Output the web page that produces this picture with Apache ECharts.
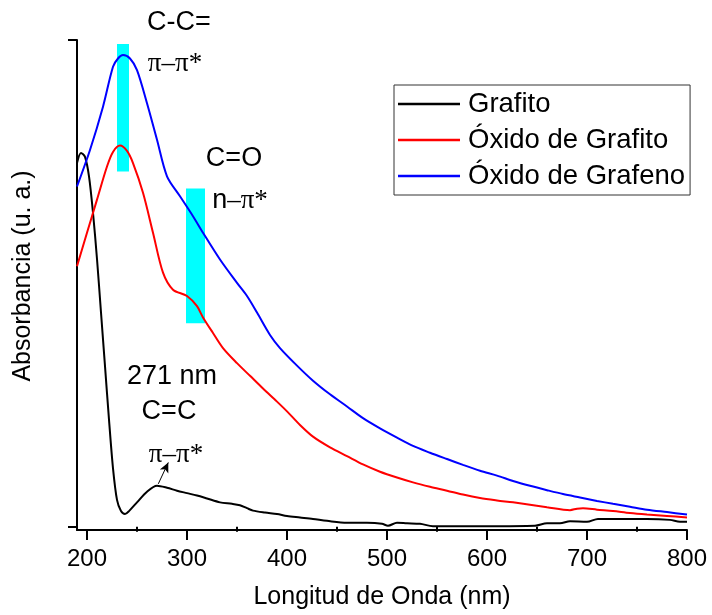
<!DOCTYPE html>
<html>
<head>
<meta charset="utf-8">
<title>Absorbancia UV-Vis</title>
<script src="https://cdn.jsdelivr.net/npm/echarts@6/dist/echarts.min.js"></script>
<style>
html,body{margin:0;padding:0;background:#fff;}
#main{width:712px;height:615px;}
</style>
</head>
<body>
<div id="main"></div>
<script>
//Grafito
var grafitoX=[190,194,198,202,206,210,214,218,222,226,230,234,238,242,250,260,270,280,290,300,310,320,333,345,353,360,366,378,390,400,413,426,440,460,480,495,501,510,520,533,546,600,648,660,673,683,700,711,760,783,793,800];
var grafitoY=[0.747,0.768,0.760,0.720,0.645,0.550,0.440,0.330,0.220,0.120,0.055,0.032,0.026,0.032,0.050,0.072,0.084,0.080,0.074,0.069,0.064,0.058,0.050,0.047,0.044,0.038,0.033,0.029,0.026,0.022,0.019,0.016,0.012,0.008,0.008,0.006,0.002,0.008,0.007,0.006,0.001,0.001,0.002,0.007,0.007,0.011,0.010,0.016,0.016,0.014,0.010,0.010];
//Óxido de Grafito
var oxGrafitoX=[190,200,210,220,226,233,240,246,256,266,276,286,300,310,316,326,336,350,363,376,390,400,413,426,443,460,476,493,510,526,543,560,576,593,610,626,643,660,683,690,696,710,726,743,760,780,800];
var oxGrafitoY=[0.535,0.604,0.672,0.740,0.770,0.783,0.772,0.747,0.686,0.604,0.522,0.487,0.474,0.453,0.430,0.398,0.367,0.336,0.310,0.284,0.257,0.237,0.209,0.185,0.163,0.145,0.128,0.113,0.101,0.091,0.082,0.074,0.066,0.059,0.054,0.050,0.045,0.040,0.034,0.037,0.038,0.035,0.032,0.028,0.025,0.022,0.019];
//Óxido de Grafeno
var oxGrafenoX=[190,203,216,226,231,236,243,250,260,270,280,293,306,316,333,350,360,370,383,393,410,426,443,460,476,493,510,526,543,560,576,593,610,626,643,660,676,693,710,726,743,760,780,800];
var oxGrafenoY=[0.699,0.774,0.863,0.945,0.962,0.969,0.962,0.938,0.870,0.795,0.720,0.679,0.638,0.604,0.549,0.501,0.474,0.440,0.394,0.367,0.331,0.300,0.272,0.247,0.223,0.202,0.183,0.166,0.152,0.139,0.127,0.115,0.105,0.094,0.084,0.075,0.067,0.060,0.053,0.047,0.041,0.035,0.030,0.025];
//bandas de transición (nm, absorbancia)
var bandaCC={x:[230,242],y:[0.730,0.992]};
var bandaCO={x:[299,318],y:[0.418,0.695]};
//ejes
var xTicks=[200,300,400,500,600,700,800];
var xMinorTicks=[250,350,450,550,650,750];
var yTicks=[0,1];
var nombres=["Grafito","Óxido de Grafito","Óxido de Grafeno"];

function pares(xs,ys){
	var d=[];
	for(var i=0;i<xs.length;i++){
		d.push([xs[i],ys[i]]);
	}
	return d;
}

var fuente="'Liberation Sans', Arial, sans-serif";
var fuenteSerif="'Liberation Serif', 'Times New Roman', serif";
var myChart=echarts.init(document.getElementById("main"));

var option={
	animation:false,
	backgroundColor:"#fff",
	grid:{
		left:77,
		right:25,
		top:40,
		bottom:84
	},
	legend:{
		left:394,
		top:85,
		orient:"vertical",
		icon:"rect",
		itemWidth:62,
		itemHeight:2.5,
		itemGap:8,
		padding:[5,5,5,4],
		borderColor:"#333",
		borderWidth:1,
		textStyle:{
			color:"#000",
			fontSize:27.5,
			lineHeight:27,
			fontFamily:fuente,
			padding:[0,0,0,3]
		},
		data:nombres
	},
	xAxis:[
		{
			type:"value",
			min:190,
			max:800,
			name:"Longitud de Onda (nm)",
			nameLocation:"middle",
			nameGap:55,
			nameTextStyle:{
				color:"#000",
				fontSize:25,
				fontFamily:fuente
			},
			axisLine:{
				onZero:false,
				lineStyle:{color:"#000",width:2}
			},
			axisTick:{
				show:true,
				length:10,
				customValues:xTicks,
				lineStyle:{color:"#000",width:2}
			},
			axisLabel:{
				customValues:xTicks,
				margin:17,
				color:"#000",
				fontSize:24,
				fontFamily:fuente
			},
			splitLine:{show:false}
		},
		{
			//ticks menores
			type:"value",
			min:190,
			max:800,
			position:"bottom",
			axisLine:{show:false},
			axisTick:{
				show:true,
				length:5,
				customValues:xMinorTicks,
				lineStyle:{color:"#000",width:2}
			},
			axisLabel:{show:false},
			splitLine:{show:false}
		}
	],
	yAxis:{
		type:"value",
		min:-0.0068,
		max:1,
		axisLine:{
			show:true,
			onZero:false,
			lineStyle:{color:"#000",width:2}
		},
		axisTick:{
			show:true,
			length:9,
			customValues:yTicks,
			lineStyle:{color:"#000",width:2}
		},
		axisLabel:{show:false},
		splitLine:{show:false}
	},
	graphic:[
		{
			type:"text",
			x:23,y:276,
			rotation:Math.PI/2,
			style:{
				text:"Absorbancia (u. a.)",
				fill:"#000",
				fontSize:25,
				fontFamily:fuente,
				textAlign:"center",
				textVerticalAlign:"middle"
			}
		},
		{
			type:"text",x:179,y:23,
			style:{text:"C-C=",fill:"#000",fontSize:27,fontFamily:fuente,textAlign:"center",textVerticalAlign:"middle"}
		},
		{
			type:"text",x:175,y:64,
			style:{text:"π–π*",fill:"#000",fontSize:27,fontFamily:fuenteSerif,textAlign:"center",textVerticalAlign:"middle"}
		},
		{
			type:"text",x:234,y:159,
			style:{text:"C=O",fill:"#000",fontSize:27,fontFamily:fuente,textAlign:"center",textVerticalAlign:"middle"}
		},
		{
			type:"text",x:240,y:201,
			style:{
				text:"{a|n}{b|–π*}",
				textAlign:"center",
				textVerticalAlign:"middle",
				rich:{
					a:{fill:"#000",fontSize:27,fontFamily:fuente},
					b:{fill:"#000",fontSize:27,fontFamily:fuenteSerif}
				}
			}
		},
		{
			type:"text",x:172,y:377,
			style:{text:"271 nm",fill:"#000",fontSize:27,fontFamily:fuente,textAlign:"center",textVerticalAlign:"middle"}
		},
		{
			type:"text",x:169,y:412,
			style:{text:"C=C",fill:"#000",fontSize:27,fontFamily:fuente,textAlign:"center",textVerticalAlign:"middle"}
		},
		{
			type:"text",x:176,y:455,
			style:{text:"π–π*",fill:"#000",fontSize:27,fontFamily:fuenteSerif,textAlign:"center",textVerticalAlign:"middle"}
		}
	],
	series:[
		{
			//bandas cian
			name:"bandas",
			type:"line",
			data:[],
			z:1,
			markArea:{
				silent:true,
				itemStyle:{color:"#00ffff",opacity:1},
				data:[
					[{coord:[bandaCC.x[0],bandaCC.y[0]]},{coord:[bandaCC.x[1],bandaCC.y[1]]}],
					[{coord:[bandaCO.x[0],bandaCO.y[0]]},{coord:[bandaCO.x[1],bandaCO.y[1]]}]
				]
			}
		},
		{
			name:nombres[0],
			type:"line",
			z:3,
			data:pares(grafitoX,grafitoY),
			showSymbol:false,
			symbol:"none",
			smooth:0.3,
			color:"#000",
			lineStyle:{color:"#000",width:2},
			markLine:{
				silent:true,
				symbol:["none","arrow"],
				symbolSize:[7,10],
				label:{show:false},
				lineStyle:{color:"#000",width:1,type:"solid"},
				data:[
					[{coord:[271.3,0.088]},{coord:[281.3,0.132]}]
				]
			}
		},
		{
			name:nombres[1],
			type:"line",
			z:3,
			data:pares(oxGrafitoX,oxGrafitoY),
			showSymbol:false,
			symbol:"none",
			smooth:0.3,
			color:"#ff0000",
			lineStyle:{color:"#ff0000",width:2}
		},
		{
			name:nombres[2],
			type:"line",
			z:3,
			data:pares(oxGrafenoX,oxGrafenoY),
			showSymbol:false,
			symbol:"none",
			smooth:0.3,
			color:"#0000ff",
			lineStyle:{color:"#0000ff",width:2}
		}
	]
};
myChart.setOption(option);
</script>
</body>
</html>
